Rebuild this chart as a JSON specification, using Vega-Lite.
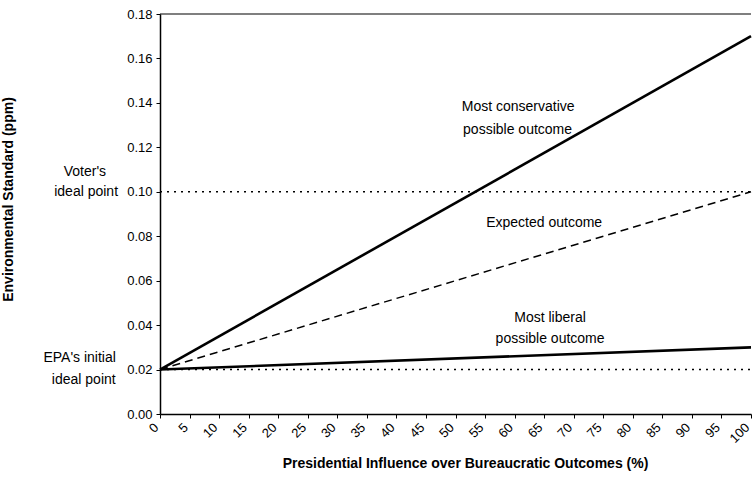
{
  "$schema": "https://vega.github.io/schema/vega-lite/v6.json",
  "width": 591,
  "height": 400,
  "autosize": {"type": "none"},
  "padding": {"left": 160, "top": 14, "right": 2, "bottom": 68},
  "background": "white",
  "config": {
    "view": {"stroke": null},
    "font": "Liberation Sans",
    "axis": {"labelFont": "Liberation Sans", "titleFont": "Liberation Sans", "labelColor": "black", "titleColor": "black", "domainColor": "black", "tickColor": "black", "grid": false}
  },
  "datasets": {
    "lines": [
      {"series": "conservative", "x": 0, "y": 0.02},
      {"series": "conservative", "x": 100, "y": 0.17},
      {"series": "expected", "x": 0, "y": 0.02},
      {"series": "expected", "x": 100, "y": 0.10},
      {"series": "liberal", "x": 0, "y": 0.02},
      {"series": "liberal", "x": 100, "y": 0.03},
      {"series": "voter", "x": 0, "y": 0.10},
      {"series": "voter", "x": 100, "y": 0.10},
      {"series": "epa", "x": 0, "y": 0.02},
      {"series": "epa", "x": 100, "y": 0.02},
      {"series": "top", "x": 0, "y": 0.18},
      {"series": "top", "x": 100, "y": 0.18}
    ],
    "labels": [
      {"text": "Most conservative", "x": 60.6, "y": 0.1383},
      {"text": "possible outcome", "x": 60.5, "y": 0.1278},
      {"text": "Expected outcome", "x": 65, "y": 0.0858},
      {"text": "Most liberal", "x": 66, "y": 0.0431},
      {"text": "possible outcome", "x": 66, "y": 0.0336}
    ],
    "side": [
      {"text": "Voter's", "x": -12.7, "y": 0.109},
      {"text": "ideal point", "x": -12.5, "y": 0.0998},
      {"text": "EPA's initial", "x": -13.6, "y": 0.0252},
      {"text": "ideal point", "x": -12.9, "y": 0.0153}
    ]
  },
  "encoding": {
    "x": {"field": "x", "type": "quantitative", "scale": {"domain": [0, 100], "nice": false},
      "axis": {"values": [0,5,10,15,20,25,30,35,40,45,50,55,60,65,70,75,80,85,90,95,100], "labelOverlap": false, "labelAngle": -45, "labelAlign": "right", "labelBaseline": "middle", "labelFontSize": 13, "tickSize": 4, "labelPadding": 7, "labelOffset": -4, "domainWidth": 1.5,
        "title": "Presidential Influence over Bureaucratic Outcomes (%)", "titleFontSize": 14, "titleFontWeight": "bold", "titleX": 305, "titleY": 42}},
    "y": {"field": "y", "type": "quantitative", "scale": {"domain": [0, 0.18], "nice": false},
      "axis": {"values": [0,0.02,0.04,0.06,0.08,0.1,0.12,0.14,0.16,0.18], "format": ".2f", "labelOverlap": false, "labelFontSize": 13, "tickSize": 4, "labelPadding": 4, "domainWidth": 1.5,
        "title": "Environmental Standard (ppm)", "titleFontSize": 14, "titleFontWeight": "bold", "titleX": -145, "titleY": 185}}
  },
  "layer": [
    {
      "data": {"name": "lines"},
      "transform": [{"filter": "datum.series === 'conservative' || datum.series === 'liberal'"}],
      "mark": {"type": "line", "color": "black", "strokeWidth": 2.6},
      "encoding": {"detail": {"field": "series"}}
    },
    {
      "data": {"name": "lines"},
      "transform": [{"filter": "datum.series === 'expected'"}],
      "mark": {"type": "line", "color": "black", "strokeWidth": 1.5, "strokeDash": [8, 5]},
      "encoding": {}
    },
    {
      "data": {"name": "lines"},
      "transform": [{"filter": "datum.series === 'voter' || datum.series === 'epa'"}],
      "mark": {"type": "line", "color": "black", "strokeWidth": 1.5, "strokeDash": [2, 5]},
      "encoding": {"detail": {"field": "series"}}
    },
    {
      "data": {"name": "lines"},
      "transform": [{"filter": "datum.series === 'top'"}],
      "mark": {"type": "line", "color": "black", "strokeWidth": 1.2},
      "encoding": {}
    },
    {
      "data": {"name": "labels"},
      "mark": {"type": "text", "fontSize": 14, "font": "Liberation Sans", "color": "black", "align": "center", "baseline": "middle"},
      "encoding": {"text": {"field": "text"}}
    },
    {
      "data": {"name": "side"},
      "mark": {"type": "text", "fontSize": 14, "font": "Liberation Sans", "color": "black", "align": "center", "baseline": "middle", "clip": false},
      "encoding": {"text": {"field": "text"}}
    }
  ]
}
